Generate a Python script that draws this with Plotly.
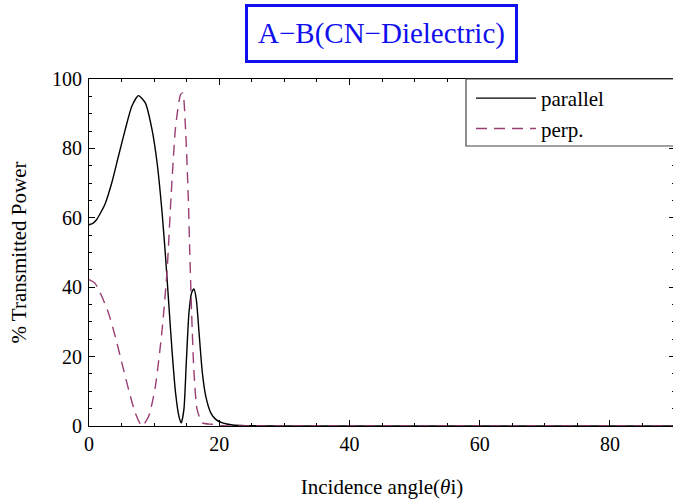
import plotly.graph_objects as go

# Parallel polarization (black solid)
par_x = [0, 0.6, 1.18, 2.47, 3.5, 4.53, 5.56, 6.59, 7.6, 8.65, 9.68, 10.46, 11.23, 11.75, 12.26, 12.78, 13.29, 13.81, 14.17, 14.58, 14.94, 15.35, 15.76, 16.12, 16.48, 16.9, 17.41, 17.93, 18.7, 19.47, 20.5, 22.05, 24.1, 30, 40, 60, 90]
par_y = [58.0, 58.4, 59.5, 64.0, 70.1, 77.8, 85.4, 92.2, 95.2, 93.1, 85.4, 75.8, 61.4, 48.9, 35, 21, 9.6, 2.8, 0.9, 4.8, 18.2, 32.6, 38.4, 39.5, 36.5, 26.9, 15.3, 8.6, 3.8, 1.9, 0.9, 0.3, 0.1, 0.03, 0, 0, 0]

# Perpendicular polarization (dashed)
perp_x = [0, 0.93, 1.96, 2.99, 4.02, 5.05, 6.08, 7.1, 8.14, 9.17, 10.2, 11.23, 12.0, 12.6, 13.29, 14.06, 14.4, 14.83, 15.24, 15.45, 15.76, 16.1, 16.6, 17.4, 18.9, 20.5, 25, 40, 60, 90]
perp_y = [42.2, 41.1, 37.4, 32.6, 25.9, 18.2, 10.5, 3.8, 0, 2.8, 11.5, 27.8, 45, 66, 86, 95.5, 96, 85.4, 66.2, 51.8, 32.6, 16.3, 4.8, 0.9, 0.5, 0.1, 0, 0, 0, 0]

series_names = ["parallel", "perp."]
title_text = "A\u2212B(CN\u2212Dielectric)"
x_title = "Incidence angle(<i>θ</i>i)"
y_title = "% Transmitted Power"
x_ticks = [0, 20, 40, 60, 80]
y_ticks = [0, 20, 40, 60, 80, 100]

FONT = "Liberation Serif, DejaVu Serif, serif"

# plot frame runs from x=89 to x=675 (right edge just outside the 673px window), y=79..426
W, H = 677, 503
L, T, B, R = 89, 79, 77, 2
PW = W - L - R
PH = H - T - B

fig = go.Figure()
fig.add_trace(go.Scatter(x=par_x, y=par_y, mode="lines", name=series_names[0],
                         line=dict(color="black", width=1.4, shape="spline", smoothing=0.6)))
fig.add_trace(go.Scatter(x=perp_x, y=perp_y, mode="lines", name=series_names[1],
                         line=dict(color="#993d74", width=1.4, dash="11px,7px", shape="spline", smoothing=0.6)))

axis_common = dict(
    showgrid=False, zeroline=False, showline=True, linecolor="black", linewidth=1,
    mirror="allticks", ticks="inside", ticklen=6, tickcolor="black", tickwidth=1,
    tickfont=dict(family=FONT, size=20, color="black"),
    minor=dict(ticks="inside", ticklen=3, dtick=5, tickcolor="black", tickwidth=1),
)

fig.update_xaxes(range=[0, 90], tickvals=x_ticks, **axis_common,
                 title=dict(text=x_title, font=dict(family=FONT, size=21, color="black"), standoff=25))
fig.update_yaxes(range=[0, 100], tickvals=y_ticks, **axis_common, ticklabelstandoff=2,
                 title=dict(text=y_title, font=dict(family=FONT, size=21, color="black"), standoff=19))

# title box (y ~ 3..62, centre x ~ 381)
fig.add_annotation(text=title_text, xref="paper", yref="paper", x=(381 - L) / PW, y=1.0,
                   yshift=(T - 33), xanchor="center", yanchor="middle", showarrow=False,
                   font=dict(family=FONT, size=29, color="#1010ee"),
                   bordercolor="#1010ee", borderwidth=3, borderpad=10, bgcolor="white")

# legend frame
fig.add_shape(type="rect", xref="paper", yref="paper",
              x0=(466 - L) / PW, x1=1.02, y0=(426 - 146) / PH, y1=1.0,
              line=dict(color="#444", width=1.2), fillcolor="white", layer="above")

fig.update_layout(
    width=W, height=H,
    margin=dict(l=L, r=R, t=T, b=B),
    plot_bgcolor="white", paper_bgcolor="white",
    font=dict(family=FONT, color="black"),
    showlegend=True,
    legend=dict(x=(471 - L) / PW, y=(426 - 78) / PH, xanchor="left", yanchor="top",
                bgcolor="rgba(0,0,0,0)", borderwidth=0, itemwidth=60,
                font=dict(family=FONT, size=21, color="black"), tracegroupgap=0),
)

fig.write_html("out.html",
               config={"displayModeBar": False},
               post_script="document.body.style.margin='0';"
                           "document.body.style.overflow='hidden';"
                           "document.documentElement.style.overflow='hidden';")
